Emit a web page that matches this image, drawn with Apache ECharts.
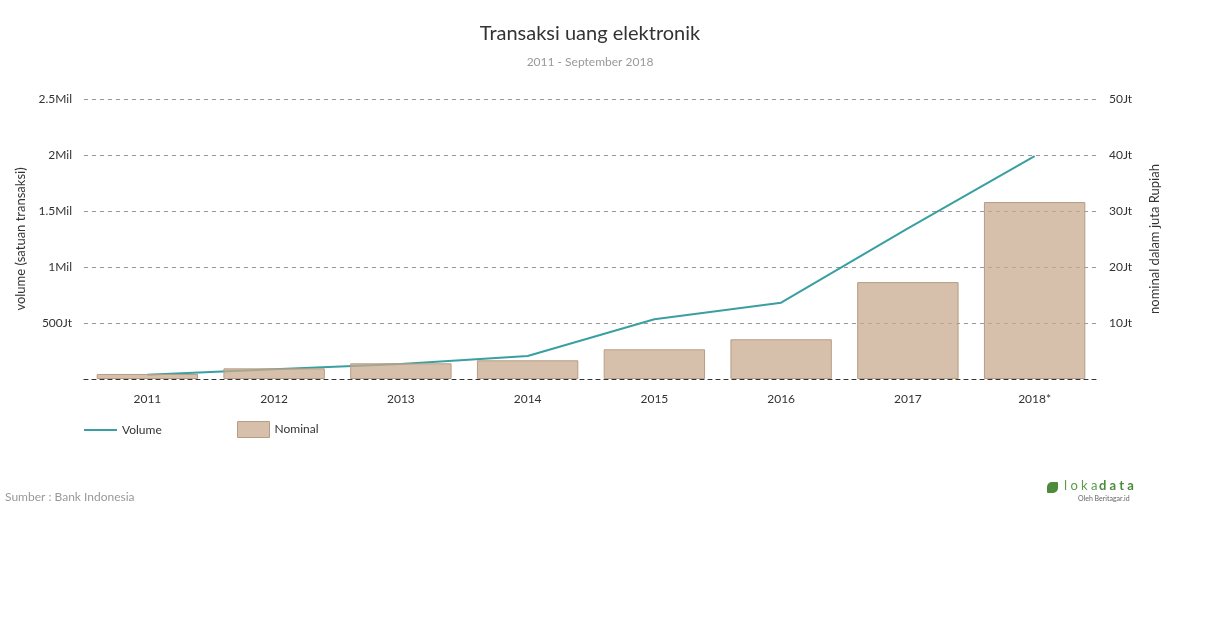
<!DOCTYPE html>
<html>
<head>
<meta charset="utf-8">
<script src="https://cdn.jsdelivr.net/npm/echarts@6/dist/echarts.min.js"></script>
<style>
    html, body { margin: 0; padding: 0; background: #fff; }
    #chartId { width: 1210px; height: 628px; }
</style>
</head>
<body>
<div id="chartId"></div>
<script>
// tahun
const years = ['2011', '2012', '2013', '2014', '2015', '2016', '2017', '2018*'];
// volume, dalam juta transaksi
const volume = [38, 87, 134, 205, 533, 681, 1344, 1990];
// nominal, dalam juta (Jt) juta Rupiah
const nominal = [0.9, 1.9, 2.8, 3.34, 5.3, 7.09, 17.3, 31.6];

const fontFam = 'Lato, "Open Sans", sans-serif';

var chart = echarts.init(document.getElementById('chartId'));

var option = {
    textStyle: { fontFamily: fontFam },
    title: {
        text: 'Transaksi uang elektronik',
        subtext: '2011 - September 2018',
        left: 585,
        textAlign: 'center',
        top: 19,
        itemGap: 12,
        textStyle: { fontFamily: fontFam, fontSize: 20, fontWeight: 'normal', color: '#333' },
        subtextStyle: { fontFamily: fontFam, fontSize: 12, color: '#999' }
    },
    grid: { left: 84, right: 112, top: 99, bottom: 249 },
    legend: [
        {
            data: ['Volume'],
            left: 79, top: 419,
            itemWidth: 33, itemHeight: 2,
            icon: 'rect',
            textStyle: { fontFamily: fontFam, fontSize: 12, color: '#333' }
        },
        {
            data: ['Nominal'],
            left: 232, top: 416,
            itemWidth: 32, itemHeight: 16,
            icon: 'rect',
            itemStyle: { borderWidth: 1 },
            textStyle: { fontFamily: fontFam, fontSize: 12, color: '#333' }
        }
    ],
    xAxis: {
        type: 'category',
        data: years,
        axisTick: { show: false },
        axisLine: { lineStyle: { color: '#333', type: [4, 4], width: 1 } },
        axisLabel: { color: '#333', fontSize: 12, margin: 14 }
    },
    yAxis: [
        {
            type: 'value',
            min: 0, max: 2500, interval: 500,
            name: 'volume (satuan transaksi)',
            nameLocation: 'middle',
            nameGap: 55,
            nameTextStyle: { color: '#333', fontSize: 13, fontFamily: fontFam },
            axisLine: { show: false },
            axisTick: { show: false },
            axisLabel: {
                color: '#333', fontSize: 12, margin: 12,
                formatter: function (v) {
                    if (v === 0) return '';
                    return v >= 1000 ? (v / 1000) + 'Mil' : v + 'Jt';
                }
            },
            splitLine: { lineStyle: { color: '#999', type: [4, 4] } }
        },
        {
            type: 'value',
            min: 0, max: 50, interval: 10,
            name: 'nominal dalam juta Rupiah',
            nameLocation: 'middle',
            nameGap: 50,
            nameTextStyle: { color: '#333', fontSize: 13, fontFamily: fontFam },
            axisLine: { show: false },
            axisTick: { show: false },
            axisLabel: {
                color: '#333', fontSize: 12, margin: 11,
                formatter: function (v) { return v === 0 ? '' : v + 'Jt'; }
            },
            splitLine: { show: false }
        }
    ],
    series: [
        {
            name: 'Volume',
            type: 'line',
            yAxisIndex: 0,
            data: volume,
            symbol: 'none',
            z: 1,
            lineStyle: { color: '#3a9fa1', width: 2 },
            itemStyle: { color: '#3a9fa1' }
        },
        {
            name: 'Nominal',
            type: 'bar',
            yAxisIndex: 1,
            data: nominal,
            barCategoryGap: '20%',
            z: 2,
            itemStyle: {
                color: 'rgba(200,170,143,0.75)',
                borderColor: '#b89d84',
                borderWidth: 1
            }
        }
    ],
    graphic: [
        {
            type: 'text',
            left: 5, top: 491,
            style: { text: 'Sumber : Bank Indonesia', fill: '#999', fontSize: 12, fontFamily: fontFam }
        },
        {
            type: 'rect',
            left: 1047, top: 482,
            shape: { width: 11, height: 11, r: [5, 1, 5, 1] },
            style: { fill: '#4b8b3b' }
        },
        {
            type: 'text',
            left: 1064, top: 479,
            style: { text: 'l o k a', fill: '#5a9a4a', fontSize: 13, fontFamily: fontFam }
        },
        {
            type: 'text',
            left: 1099, top: 479,
            style: { text: 'd a t a', fill: '#4b8b3b', fontSize: 13, fontWeight: 'bold', fontFamily: fontFam }
        },
        {
            type: 'text',
            left: 1078, top: 495,
            style: { text: 'Oleh Beritagar.id', fill: '#666', fontSize: 7, fontFamily: fontFam }
        }
    ]
};

chart.setOption(option);
</script>
</body>
</html>
